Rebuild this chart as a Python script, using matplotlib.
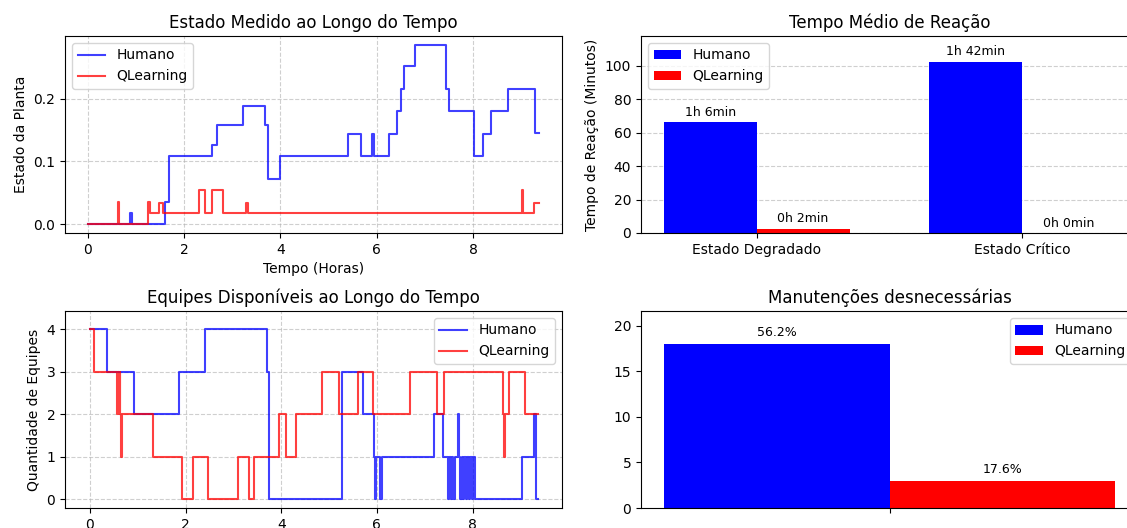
import numpy as np
import matplotlib
matplotlib.use("Agg")
import matplotlib.pyplot as plt

# Estado da planta (horas, valor) - pontos de mudança
estado_h_t = [0.0, 0.88, 0.93, 1.60, 1.68, 2.59, 2.68, 3.22, 3.67, 3.74, 3.99, 5.41, 5.68,
              5.89, 5.94, 6.25, 6.42, 6.49, 6.56, 6.78, 7.44, 7.50, 8.01, 8.19, 8.36, 8.71,
              9.27, 9.37]
estado_h_v = [0.0, 0.018, 0.0, 0.036, 0.108, 0.126, 0.158, 0.189, 0.158, 0.072, 0.108, 0.144,
              0.108, 0.144, 0.108, 0.144, 0.180, 0.216, 0.252, 0.286, 0.216, 0.180, 0.108,
              0.144, 0.180, 0.216, 0.145, 0.145]

estado_q_t = [0.0, 0.63, 0.66, 1.26, 1.29, 1.49, 1.57, 2.32, 2.44, 2.59, 2.81, 3.29, 3.32,
              9.00, 9.04, 9.26, 9.37]
estado_q_v = [0.0, 0.036, 0.0, 0.036, 0.018, 0.033, 0.018, 0.054, 0.018, 0.054, 0.018, 0.033,
              0.018, 0.054, 0.018, 0.033, 0.033]

# Equipes disponíveis (horas, quantidade)
equipes_h_t = [0.0, 0.35, 0.92, 1.86, 2.41, 3.70, 3.74, 5.27, 5.70, 5.93, 5.96, 5.99, 6.07,
               6.10, 7.20, 7.38, 7.48, 7.51, 7.54, 7.57, 7.60, 7.63, 7.70, 7.72, 7.74, 7.77,
               7.80, 7.83, 7.86, 7.89, 7.92, 7.95, 7.98, 8.01, 8.05, 9.03, 9.28, 9.33, 9.37]
equipes_h_v = [4, 3, 2, 3, 4, 3, 0, 3, 2, 1, 0, 1, 0,
               1, 2, 1, 0, 1, 0, 1, 0, 1, 2, 1, 0, 1,
               0, 1, 0, 1, 0, 1, 0, 1, 0, 1, 2, 0, 0]

equipes_q_t = [0.0, 0.09, 0.56, 0.58, 0.60, 0.62, 0.64, 0.66, 0.68, 1.31, 1.92, 2.16, 2.46,
               3.10, 3.33, 3.43, 3.95, 4.11, 4.31, 4.85, 5.20, 5.61, 5.91, 6.69, 7.25, 7.41,
               8.63, 8.65, 8.67, 8.77, 9.09, 9.37]
equipes_q_v = [4, 3, 2, 3, 2, 3, 2, 1, 2, 1, 0, 1, 0,
               1, 0, 1, 2, 1, 2, 3, 2, 3, 2, 3, 2, 3,
               2, 1, 2, 3, 2, 2]

# Tempo médio de reação (minutos)
estados = ['Estado Degradado', 'Estado Crítico']
reacao_humano = [66.5, 102.5]
reacao_qlearning = [2.6, 0.0]

# Manutenções desnecessárias
manut_humano = 18
manut_qlearning = 3
manut_total_humano = 32
manut_total_qlearning = 17


def fmt_min(m):
    return f"{int(m // 60)}h {int(m % 60)}min"


W, H = 1127, 528
fig = plt.figure(figsize=(W / 100, H / 100), dpi=100)
ax1 = fig.add_axes([65 / W, 295 / H, 497 / W, 197 / H])
ax2 = fig.add_axes([641 / W, 295 / H, 497 / W, 197 / H])
ax3 = fig.add_axes([65 / W, 20 / H, 497 / W, 197 / H])
ax4 = fig.add_axes([641 / W, 20 / H, 497 / W, 197 / H])

# Estado medido
ax1.step(estado_h_t, estado_h_v, where='post', color='blue', alpha=0.75, lw=1.5, label='Humano')
ax1.step(estado_q_t, estado_q_v, where='post', color='red', alpha=0.75, lw=1.5, label='QLearning')
ax1.set_title('Estado Medido ao Longo do Tempo')
ax1.set_xlabel('Tempo (Horas)')
ax1.set_ylabel('Estado da Planta')
ax1.set_yticks([0.0, 0.1, 0.2])
ax1.grid(True, linestyle='--', alpha=0.6)
ax1.legend(loc='upper left')

# Tempo de reação
x = np.arange(len(estados))
w = 0.35
b1 = ax2.bar(x - w / 2, reacao_humano, w, color='blue', label='Humano')
b2 = ax2.bar(x + w / 2, reacao_qlearning, w, color='red', label='QLearning')
for bars in (b1, b2):
    for b in bars:
        h = b.get_height()
        ax2.text(b.get_x() + b.get_width() / 2, h + 2, fmt_min(h), ha='center', va='bottom', fontsize=9)
ax2.set_xticks(x)
ax2.set_xticklabels(estados)
ax2.set_ylim(0, max(reacao_humano) * 1.15)
ax2.set_ylabel('Tempo de Reação (Minutos)')
ax2.set_title('Tempo Médio de Reação')
ax2.set_axisbelow(True)
ax2.yaxis.grid(True, linestyle='--', alpha=0.6)
ax2.legend(loc='upper left')

# Equipes disponíveis
ax3.step(equipes_h_t, equipes_h_v, where='post', color='blue', alpha=0.75, lw=1.5, label='Humano')
ax3.step(equipes_q_t, equipes_q_v, where='post', color='red', alpha=0.75, lw=1.5, label='QLearning')
ax3.set_title('Equipes Disponíveis ao Longo do Tempo')
ax3.set_ylabel('Quantidade de Equipes')
ax3.set_xlabel('Tempo (Horas)')
ax3.set_xlim(-0.52, 9.87)
ax3.set_ylim(-0.2, 4.43)
ax3.grid(True, linestyle='--', alpha=0.6)
ax3.legend(loc='upper right')

# Manutenções desnecessárias
mb1 = ax4.bar(-0.2, manut_humano, 0.4, color='blue', label='Humano')
mb2 = ax4.bar(0.2, manut_qlearning, 0.4, color='red', label='QLearning')
for bars, tot in ((mb1, manut_total_humano), (mb2, manut_total_qlearning)):
    b = bars[0]
    h = b.get_height()
    ax4.text(b.get_x() + b.get_width() / 2, h + 0.5, f"{100 * h / tot:.1f}%", ha='center', va='bottom', fontsize=9)
ax4.set_xticks([0])
ax4.set_xticklabels([''])
ax4.set_ylim(0, manut_humano * 1.2)
ax4.set_title('Manutenções desnecessárias')
ax4.legend(loc='upper right')

fig.savefig('out.png', dpi=100)
